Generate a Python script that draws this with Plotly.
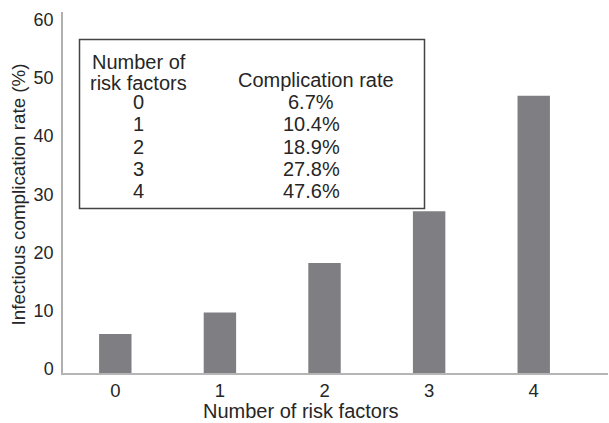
import plotly.graph_objects as go

# ---- data ----
risk_factors = [0, 1, 2, 3, 4]
complication_rate = [6.7, 10.4, 18.9, 27.8, 47.6]
rate_labels = ["6.7%", "10.4%", "18.9%", "27.8%", "47.6%"]
y_ticks = [0, 10, 20, 30, 40, 50, 60]
x_title = "Number of risk factors"
y_title = "Infectious complication rate (%)"

W, H = 609, 423
L, R, T, B = 63, 1, 12, 50
PW, PH = W - L - R, H - T - B

def px(x):
    return (x - L) / PW

def py(y):
    return (H - B - y) / PH

FONT = "Liberation Sans, Arial, Helvetica, sans-serif"
TXT = "#262626"

fig = go.Figure()
fig.add_trace(go.Bar(
    x=risk_factors, y=complication_rate, width=0.31,
    marker=dict(color="#7f7f83", line=dict(width=0)),
    showlegend=False, hoverinfo="skip",
))

# table box
fig.add_shape(type="rect", xref="paper", yref="paper",
              x0=px(79.5), x1=px(424.5), y0=py(208.5), y1=py(39.5),
              line=dict(color="#444444", width=1.5), fillcolor="rgba(0,0,0,0)")

ann = []
ann.append(dict(text="Number of", x=px(138.5), y=py(61.5)))
ann.append(dict(text="risk factors", x=px(138.5), y=py(83)))
ann.append(dict(text="Complication rate", x=px(316), y=py(80.5)))
row_y = [102, 124.3, 146.5, 168.5, 190.5]
for rf, lab, yy in zip(risk_factors, rate_labels, row_y):
    ann.append(dict(text=str(rf), x=px(138.5), y=py(yy)))
    ann.append(dict(text=lab, x=px(311), y=py(yy)))
for a in ann:
    a.update(xref="paper", yref="paper", showarrow=False, xanchor="center",
             yanchor="middle", font=dict(family=FONT, size=20, color=TXT))
    fig.add_annotation(**a)

# axis titles
fig.add_annotation(text=x_title, xref="paper", yref="paper", x=px(301), y=py(411),
                   showarrow=False, xanchor="center", yanchor="middle",
                   font=dict(family=FONT, size=20, color=TXT))
fig.add_annotation(text=y_title, xref="paper", yref="paper", x=px(17.5), y=py(195),
                   showarrow=False, xanchor="center", yanchor="middle", textangle=-90,
                   font=dict(family=FONT, size=18.8, color=TXT))

fig.update_layout(
    width=W, height=H,
    margin=dict(l=L, r=R, t=T, b=B, pad=0),
    plot_bgcolor="white", paper_bgcolor="white",
    font=dict(family=FONT, color=TXT, size=17),
    xaxis=dict(range=[-0.5, 4.71], tickmode="array", tickvals=risk_factors,
               ticktext=[str(v) for v in risk_factors], automargin=False,
               showline=True, linecolor="#b5b5b5", linewidth=1.5,
               showgrid=False, zeroline=False, ticks="",
               tickfont=dict(size=18.5)),
    yaxis=dict(range=[0, 62], tickmode="array", tickvals=y_ticks, automargin=False,
               showline=True, linecolor="#b0b0b0", linewidth=1.5,
               showgrid=False, zeroline=False, ticks="",
               ticklabelshift=-4, ticklabelstandoff=4,
               tickfont=dict(size=18)),
)

fig.write_html("out.html", config={"displayModeBar": False},
               post_script="document.body.style.margin='0';document.body.style.overflow='hidden';")
